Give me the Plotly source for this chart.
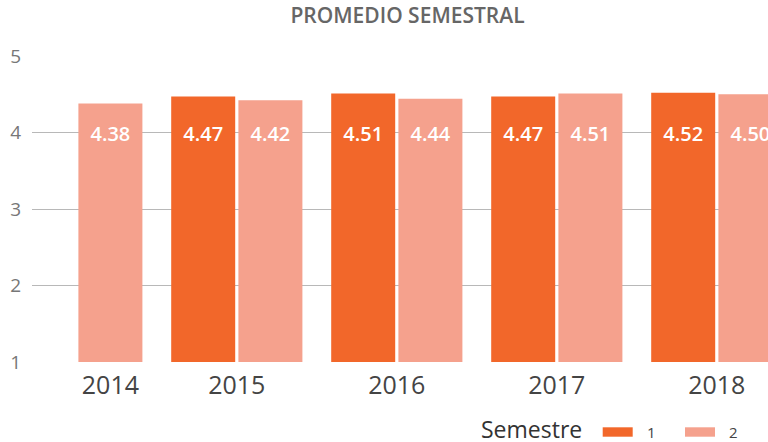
import plotly.graph_objects as go

# Semester averages per year (2014 only has the second semester)
years = [2014, 2015, 2016, 2017, 2018]
sem1 = [None, 4.47, 4.51, 4.47, 4.52]
sem2 = [4.38, 4.42, 4.44, 4.51, 4.50]
series_names = ["1", "2"]

COLOR_S1 = "#F2672A"
COLOR_S2 = "#F5A18D"
FONT = "Open Sans"

BAR_W = 0.4
OFFSETS = [-0.41, 0.01]
LABEL_Y = 3.955  # data labels sit in a common band inside the bars

W, H = 768, 442
ML, MR, MT, MB = 32, 0, 56, 80
PW, PH = W - ML - MR, H - MT - MB


def px_x(px):
    return (px - ML) / PW


def px_y(py):
    return (H - MB - py) / PH


fig = go.Figure()

for vals, off, color, name in zip([sem1, sem2], OFFSETS, [COLOR_S1, COLOR_S2], series_names):
    fig.add_trace(go.Bar(
        x=years, y=vals, name=name, width=BAR_W, offset=off,
        marker=dict(color=color, line=dict(width=0)),
        showlegend=False,
    ))

# value labels
for vals, off in zip([sem1, sem2], OFFSETS):
    xs = [y + off + BAR_W / 2 for y, v in zip(years, vals) if v is not None]
    txt = [f"{v:.2f}" for v in vals if v is not None]
    fig.add_trace(go.Scatter(
        x=xs, y=[LABEL_Y] * len(xs), text=txt, mode="text",
        textfont=dict(family=FONT, size=20, color="white", weight=600),
        cliponaxis=True, hoverinfo="skip", showlegend=False,
    ))

# year ticks: centred on the group, or on the lone bar when a semester is missing
tickvals = []
for y, a, b in zip(years, sem1, sem2):
    if a is None:
        tickvals.append(y + OFFSETS[1] + BAR_W / 2)
    elif b is None:
        tickvals.append(y + OFFSETS[0] + BAR_W / 2)
    else:
        tickvals.append(y)

fig.update_xaxes(
    type="linear", range=[2013.72, 2018.32],
    tickvals=tickvals, ticktext=[str(y) for y in years],
    tickfont=dict(family=FONT, size=25, color="#444444"),
    showgrid=False, zeroline=False, showline=False, ticks="",
    ticklabelstandoff=6,
)
fig.update_yaxes(
    range=[1, 5], tickvals=[1, 2, 3, 4, 5],
    tickfont=dict(family=FONT, size=19, color="#777777"),
    showgrid=True, gridcolor="#B8B8B8", gridwidth=1,
    zeroline=False, showline=False, ticks="",
    ticklabelstandoff=10,
)

# legend drawn by hand: title, swatches and labels
legend_items = [
    (COLOR_S1, 602.7, series_names[0]),
    (COLOR_S2, 685.0, series_names[1]),
]
shapes = []
annotations = [dict(
    text="Semestre", xref="paper", yref="paper", x=px_x(479), y=px_y(428.5),
    xanchor="left", yanchor="middle", height=22, valign="middle", showarrow=False,
    font=dict(family=FONT, size=23, color="#333333"),
)]
for color, x0, label in legend_items:
    shapes.append(dict(
        type="rect", xref="paper", yref="paper",
        x0=px_x(x0), x1=px_x(x0 + 30), y0=px_y(427.3), y1=px_y(436.7),
        fillcolor=color, line=dict(width=0),
    ))
    annotations.append(dict(
        text=label, xref="paper", yref="paper", x=px_x(x0 + 42), y=px_y(431.5),
        xanchor="left", yanchor="middle", showarrow=False,
        font=dict(family=FONT, size=15, color="#444444"),
    ))

fig.update_layout(
    width=W, height=H,
    margin=dict(l=ML, r=MR, t=MT, b=MB, pad=0),
    paper_bgcolor="white", plot_bgcolor="white",
    barmode="overlay",
    title=dict(
        text="PROMEDIO SEMESTRAL", x=407.5 / W, xanchor="center",
        y=1 - 15.5 / H, yanchor="middle",
        font=dict(family=FONT, size=21, color="#666666", weight=600),
    ),
    shapes=shapes, annotations=annotations,
    showlegend=False,
)

fig.write_html("out.html")
